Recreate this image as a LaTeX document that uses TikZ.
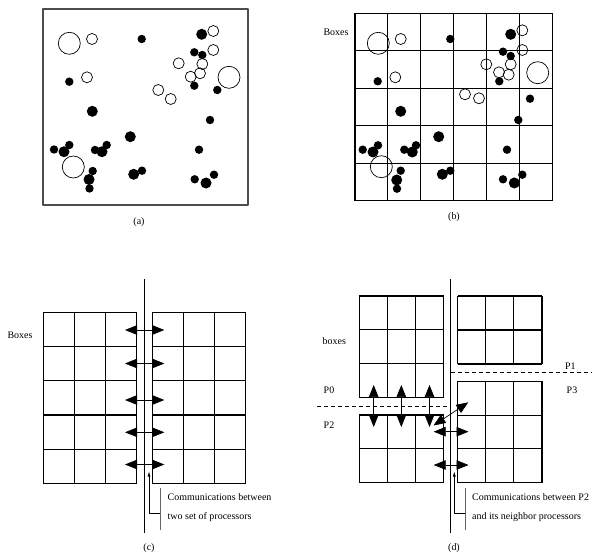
\documentclass[tikz,border=0pt]{standalone}
\usepackage{fontspec}
\setmainfont{Liberation Serif}
\usetikzlibrary{arrows.meta}

\tikzset{
  gridline/.style={line width=1.1bp},
  pring/.style={line width=0.7bp},
  xchg/.style={{Triangle[length=12bp,width=9.5bp]}-{Triangle[length=12bp,width=9.5bp]},line width=0.7bp},
  pointer/.style={-{Latex[length=5bp,width=3bp]},line width=0.6bp},
  pics/cells/.style n args={4}{code={
      \foreach \i in {0,...,#1} \draw[gridline] (\i*#3,0) -- (\i*#3,#2*#4);
      \foreach \j in {0,...,#2} \draw[gridline] (0,\j*#4) -- (#1*#3,\j*#4);
  }}
}

\begin{document}
\begin{tikzpicture}[x=1bp,y=-1bp,line join=round,inner sep=0pt,font=\fontsize{10}{12}\selectfont]
  \useasboundingbox (0,0) rectangle (594,558);

  % ---- (a) the particles in the domain -------------------------------------
  \draw[line width=1.2bp,draw=black!70] (43,9) rectangle (248,205);
  \foreach \px/\py/\pr in {92/39/5.5, 213.3/31/5.5, 213.3/50/5.5, 178.7/63.3/5.5,
      202.3/64/5.5, 190.7/76.7/5.5, 200/73.3/5.5, 87/77.3/5.5, 158.3/90/5.5,
      170.7/99/5.5, 69.3/43.3/11, 229/77.3/11, 73.3/167/11}
    \draw[pring] (\px,\py) circle[radius=\pr];
  \foreach \px/\py/\pr in {141.7/39/4.2, 194.3/52.3/4.2, 202.3/55/4.2, 194.3/85.7/4.2,
      217.3/90/4.2, 69.3/81.7/4.2, 210/120/4.2, 199/149.7/4.2, 54/149.5/4.2,
      69.3/145/4.2, 95/150/4.2, 106.7/145/4.2, 92.7/171/4.2, 89.5/188.5/4.2,
      142/170.7/4.2, 194.7/179.3/4.2, 214/174.7/4.2,
      201.7/34.3/5.5, 92.3/111.3/5.5, 130.3/136.7/5.5, 64/151.7/5.5, 102/151.7/5.5,
      89/179.5/5.5, 133.7/174.3/5.5, 206/183/5.5}
    \fill (\px,\py) circle[radius=\pr];
  \node (capa) at (139,222.5) {(a)};

  % ---- (b) the domain cut into boxes --------------------------------------
  \pic at (355,13.3) {cells={6}{5}{32.9}{37.5}};
  \foreach \px/\py/\pr in {400.7/39/5.5, 522.3/30.3/5.5, 522.3/50/5.5, 486.3/64.3/5.5,
      510.7/64.3/5.5, 499/72.3/5.5, 508.7/74.7/5.5, 395.3/77.3/5.5, 465/94.3/5.5,
      479/98.3/5.5, 378.3/43.3/11, 537.7/72.7/11, 381.3/166.7/11}
    \draw[pring] (\px,\py) circle[radius=\pr];
  \foreach \px/\py/\pr in {450.3/39/4.2, 503/51.7/4.2, 510.7/56/4.2, 499.3/81.3/4.2,
      377.7/81.3/4.2, 530/98.7/4.2, 518.3/120/4.2, 507/149.7/4.2, 362.7/149.7/4.2,
      378/145.3/4.2, 404.3/149.7/4.2, 416/145.3/4.2, 400.7/170.7/4.2, 397/188.7/4.2,
      450.3/170.7/4.2, 503/179.3/4.2, 522.3/174.7/4.2,
      510.7/34.3/5.5, 400.7/111.3/5.5, 438.7/136.7/5.5, 373/152/5.5, 412.3/152/5.5,
      396.7/180/5.5, 442.3/174.3/5.5, 514.3/183/5.5}
    \fill (\px,\py) circle[radius=\pr];
  \node (boxb) at (336,32.3) {Boxes};
  \node (capb) at (454,217) {(b)};

  % ---- (c) two sets of processors -----------------------------------------
  \pic at (43.3,312.7) {cells={3}{5}{31.1}{34.1}};
  \pic at (152.3,312.7) {cells={3}{5}{31.2}{34.1}};
  \draw[line width=0.8bp] (144.3,279.3) -- (144.3,533.3);
  \foreach \ay in {330,363.5,400,432.3,464.5}
    \draw[xchg] (125,\ay) -- (164.3,\ay);
  \coordinate (ctip) at (149,471.5);
  \coordinate (cfoot) at (149,513);
  \draw[pointer] (160,513) -- (cfoot) -- (ctip);
  \draw[line width=0.6bp,draw=black!60] (160,488) -- (160,530);
  \node[anchor=west,align=left,font=\fontsize{10}{19.5}\selectfont] (ctext) at (167.5,507.5)
    {Communications between\\two set of processors};
  \node (boxc) at (20,335.7) {Boxes};
  \node (capc) at (149,548.5) {(c)};

  % ---- (d) P2 and its neighbours ------------------------------------------
  \pic at (359.3,296) {cells={3}{3}{28.1}{33.9}};
  \pic at (457.7,296) {cells={3}{2}{28.1}{34}};
  \pic at (457.7,381.3) {cells={3}{3}{28.1}{33.8}};
  \pic at (359.3,415) {cells={3}{2}{28.1}{33.8}};
  \draw[line width=0.8bp] (450.5,279.3) -- (450.5,533.3);
  \draw[line width=0.8bp,dash pattern=on 4bp off 3bp] (317,406) -- (450.5,406);
  \draw[line width=0.8bp,dash pattern=on 4bp off 3bp] (450.5,372.3) -- (592,372.3);
  \foreach \ax in {373.7,401.3,429.5}
    \draw[xchg] (\ax,385) -- (\ax,427);
  \draw[xchg] (433.5,425.5) -- (468.3,402.3);
  \draw[xchg] (433.7,431.7) -- (468.5,431.7);
  \draw[xchg] (433.7,465) -- (468.5,465);
  \coordinate (dtip) at (454.3,471.5);
  \coordinate (dfoot) at (454.3,513);
  \draw[pointer] (465,513) -- (dfoot) -- (dtip);
  \draw[line width=0.6bp,draw=black!60] (465,488) -- (465,530);
  \node[anchor=west,align=left,font=\fontsize{10}{19.5}\selectfont] (dtext) at (472,507.5)
    {Communications between P2\\and its neighbor processors};
  \node (boxd) at (334.3,341) {boxes};
  \node (pzero) at (329,390.7) {P0};
  \node (ptwo) at (329,425) {P2};
  \node (pone) at (570.3,366.7) {P1};
  \node (pthree) at (572,390.7) {P3};
  \node (capd) at (454,548.5) {(d)};

\end{tikzpicture}
\end{document}
